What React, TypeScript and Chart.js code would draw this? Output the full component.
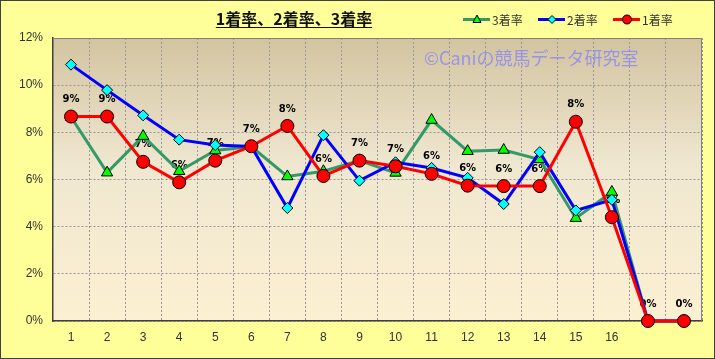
import React, { useEffect, useRef } from 'react';
import { Chart, registerables } from 'chart.js';
Chart.register(...registerables);

const categories = ['1', '2', '3', '4', '5', '6', '7', '8', '9', '10', '11', '12', '13', '14', '15', '16', '', ''];
const rate1 = [8.67, 8.67, 6.75, 5.88, 6.8, 7.41, 8.27, 6.15, 6.8, 6.56, 6.24, 5.74, 5.72, 5.72, 8.45, 4.4, 0, 0];
const rate2 = [10.87, 9.79, 8.72, 7.69, 7.46, 7.4, 4.79, 7.88, 5.95, 6.73, 6.49, 6.07, 4.96, 7.16, 4.69, 5.14, 0, 0];
const rate3 = [8.65, 6.29, 7.84, 6.35, 7.23, 7.4, 6.13, 6.35, 6.8, 6.28, 8.52, 7.2, 7.25, 6.85, 4.36, 5.47, 0, 0];
const seriesNames = ['1着率', '2着率', '3着率'];
const yTicks = [0, 2, 4, 6, 8, 10, 12];
const titleText = '1着率、2着率、3着率';
const watermarkText = '©Caniの競馬データ研究室';

const JP = '"Noto Sans CJK JP", "Noto Sans", sans-serif';

export default function App() {
  const ref = useRef<HTMLCanvasElement>(null);
  useEffect(() => {
    const canvas = ref.current!;
    const deco = {
      id: 'deco',
      beforeDraw(chart: any) {
        const c = chart.ctx;
        const a = chart.chartArea;
        c.save();
        c.fillStyle = '#FFFF99';
        c.fillRect(0, 0, chart.width, chart.height);
        const g = c.createLinearGradient(0, a.top, 0, a.bottom);
        g.addColorStop(0, '#D3C4A0');
        g.addColorStop(0.45, '#EFE7D0');
        g.addColorStop(1, '#FCF0D2');
        c.fillStyle = g;
        c.fillRect(a.left, a.top, a.right - a.left, a.bottom - a.top);
        c.restore();
      },
      beforeDatasetsDraw(chart: any) {
        const c = chart.ctx;
        const a = chart.chartArea;
        c.save();
        c.strokeStyle = '#808080';
        c.lineWidth = 1;
        c.beginPath();
        c.moveTo(a.left, a.top + 0.5);
        c.lineTo(a.right - 0.5, a.top + 0.5);
        c.lineTo(a.right - 0.5, a.bottom);
        c.stroke();
        c.font = '18px ' + JP;
        c.fillStyle = 'rgba(140,140,240,0.85)';
        c.textAlign = 'left';
        c.textBaseline = 'middle';
        c.fillText(watermarkText, 424, 58);
        const meta = chart.getDatasetMeta(0);
        c.font = 'bold 10px "DejaVu Sans", sans-serif';
        c.fillStyle = '#000';
        c.textAlign = 'center';
        meta.data.forEach((p: any, i: number) => {
          c.fillText(Math.round(rate1[i]) + '%', p.x, p.y - 17);
        });
        c.restore();
      },
      afterDraw(chart: any) {
        const c = chart.ctx;
        c.save();
        c.font = 'bold 16px ' + JP;
        c.fillStyle = '#111';
        c.textAlign = 'left';
        c.textBaseline = 'middle';
        const tw = c.measureText(titleText).width;
        const tx = 294 - tw / 2;
        c.fillText(titleText, tx, 19);
        c.strokeStyle = '#111';
        c.lineWidth = 1;
        c.beginPath();
        c.moveTo(tx, 27.5);
        c.lineTo(tx + tw, 27.5);
        c.stroke();
        const items = [
          { name: seriesNames[2], color: '#339966', x: 463, style: 'tri', fill: '#00FF00' },
          { name: seriesNames[1], color: '#0000FF', x: 538, style: 'dia', fill: '#00FFFF' },
          { name: seriesNames[0], color: '#FF0000', x: 613, style: 'cir', fill: '#FF0000' },
        ];
        const ly = 19.5;
        items.forEach((it) => {
          c.strokeStyle = it.color;
          c.lineWidth = 3;
          c.beginPath();
          c.moveTo(it.x, ly);
          c.lineTo(it.x + 27, ly);
          c.stroke();
          const mx = it.x + 14;
          c.fillStyle = it.fill;
          c.strokeStyle = '#000';
          c.lineWidth = 1;
          c.beginPath();
          if (it.style === 'tri') {
            c.moveTo(mx, ly - 4.5);
            c.lineTo(mx + 4, ly + 3);
            c.lineTo(mx - 4, ly + 3);
            c.closePath();
          } else if (it.style === 'dia') {
            c.moveTo(mx, ly - 4);
            c.lineTo(mx + 4, ly);
            c.lineTo(mx, ly + 4);
            c.lineTo(mx - 4, ly);
            c.closePath();
          } else {
            c.arc(mx, ly, 4.5, 0, Math.PI * 2);
          }
          c.fill();
          c.stroke();
          c.font = '12px ' + JP;
          c.fillStyle = '#333';
          c.textAlign = 'left';
          c.textBaseline = 'middle';
          c.fillText(it.name, it.x + 29, ly + 1);
        });
        c.strokeStyle = '#404040';
        c.lineWidth = 1;
        c.strokeRect(0.5, 0.5, chart.width - 1, chart.height - 1);
        c.restore();
      },
    };

    const chart = new Chart(canvas, {
      type: 'line',
      data: {
        labels: categories,
        datasets: [
          {
            label: seriesNames[0],
            data: rate1,
            borderColor: '#FF0000',
            backgroundColor: '#FF0000',
            borderWidth: 3,
            pointStyle: 'circle',
            pointRadius: 6.5,
            pointBorderColor: '#000',
            pointBorderWidth: 1,
            pointBackgroundColor: '#FF0000',
            tension: 0,
            clip: false,
          },
          {
            label: seriesNames[1],
            data: rate2,
            borderColor: '#0000FF',
            backgroundColor: '#00FFFF',
            borderWidth: 3,
            pointStyle: 'rectRot',
            pointRadius: 5.5,
            pointBorderColor: '#000',
            pointBorderWidth: 1,
            pointBackgroundColor: '#00FFFF',
            tension: 0,
            clip: false,
          },
          {
            label: seriesNames[2],
            data: rate3,
            borderColor: '#339966',
            backgroundColor: '#00FF00',
            borderWidth: 3,
            pointStyle: 'triangle',
            pointRadius: 6.5,
            pointBorderColor: '#000',
            pointBorderWidth: 1,
            pointBackgroundColor: '#00FF00',
            tension: 0,
            clip: false,
          },
        ],
      } as any,
      options: {
        responsive: false,
        animation: false,
        layout: { padding: { left: 0, top: 38, right: 13, bottom: 0 } },
        plugins: {
          legend: { display: false },
          title: { display: false },
          tooltip: { enabled: false },
        },
        scales: {
          x: {
            type: 'category',
            offset: true,
            grid: { offset: true, color: '#999', lineWidth: 1, drawTicks: false },
            border: { color: '#404040', width: 1.5, dash: [2, 2] },
            ticks: { color: '#333', font: { size: 12, family: '"Liberation Sans", sans-serif' }, padding: 9, maxRotation: 0, autoSkip: false },
            afterFit: (s: any) => { s.height = 38; },
          },
          y: {
            min: 0,
            max: 12,
            afterBuildTicks: (s: any) => { s.ticks = yTicks.map((v) => ({ value: v })); },
            grid: { color: '#999', lineWidth: 1, drawTicks: false },
            border: { color: '#404040', width: 1.5, dash: [2, 2] },
            ticks: { color: '#333', font: { size: 12, family: '"Liberation Sans", sans-serif' }, padding: 10, callback: (v: any) => v + '%' },
            afterFit: (s: any) => { s.width = 53; },
          },
        },
      } as any,
      plugins: [deco],
    });
    return () => chart.destroy();
  }, []);
  return (
    <div style={{ position: 'absolute', left: 0, top: 0, width: 715, height: 359 }}>
      <canvas ref={ref} width={715} height={359} style={{ display: 'block' }} />
    </div>
  );
}
